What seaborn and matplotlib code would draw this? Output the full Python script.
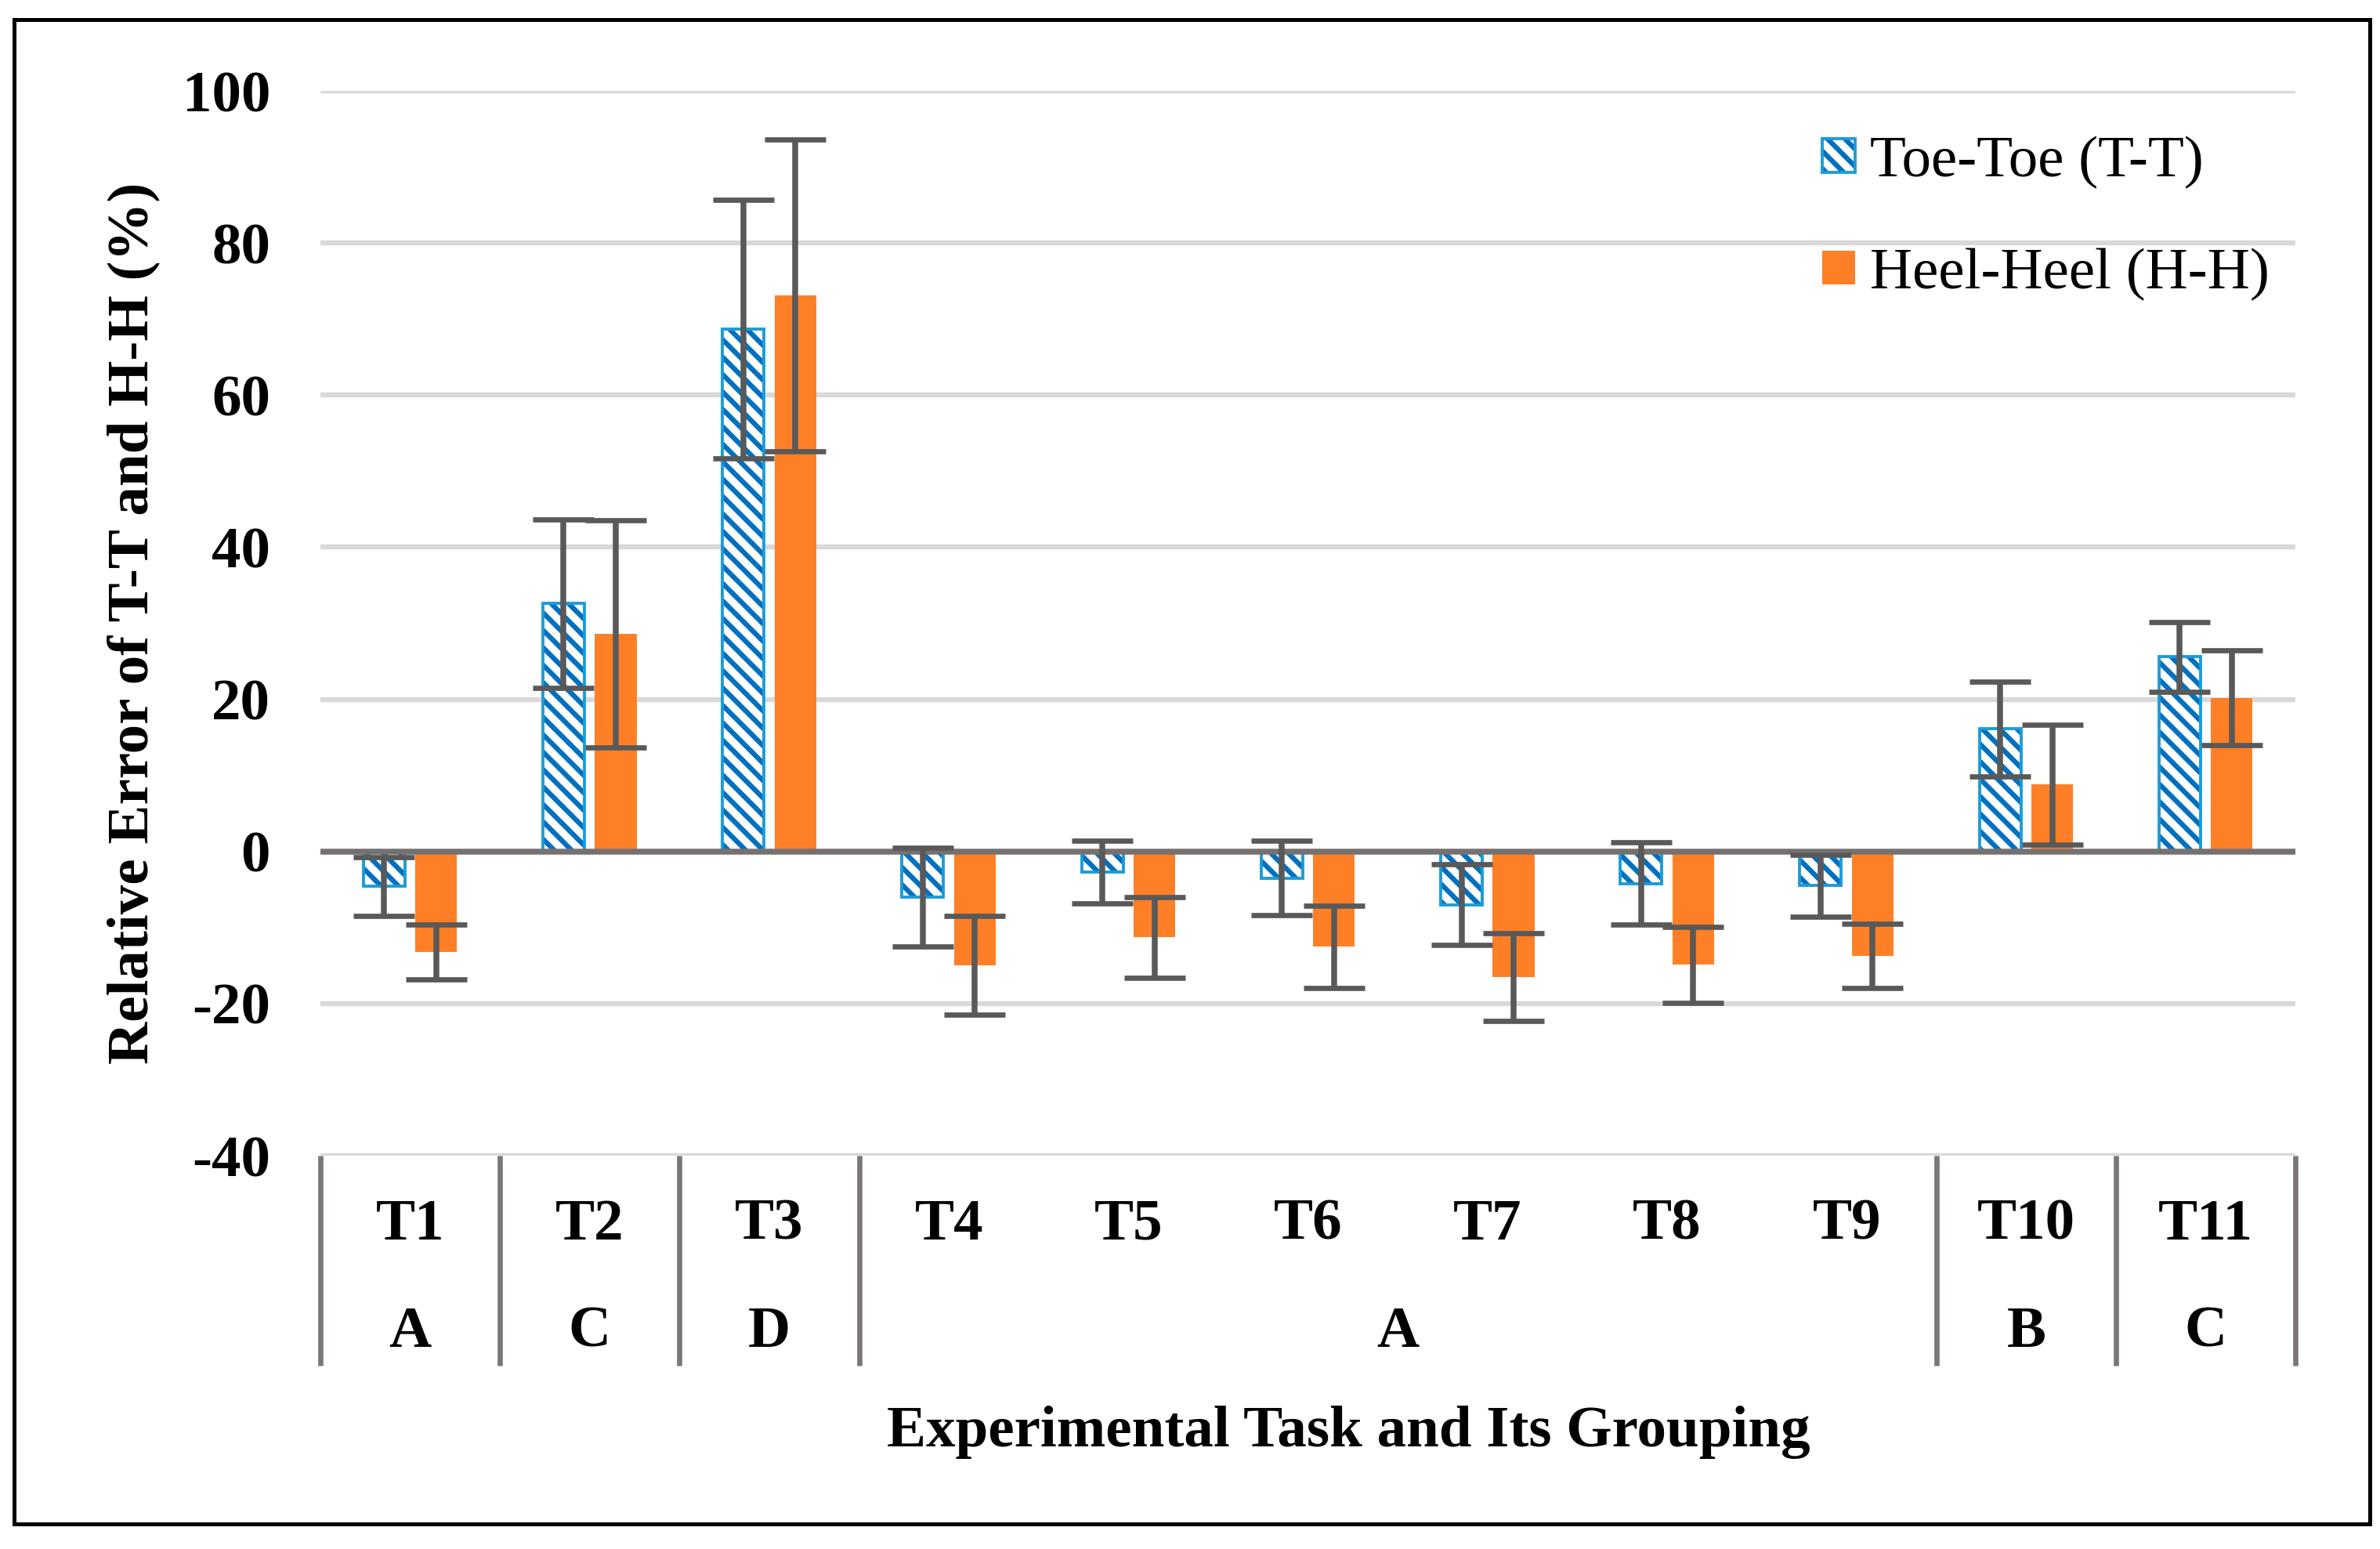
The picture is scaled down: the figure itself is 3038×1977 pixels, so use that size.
import numpy as np
import pandas as pd
import matplotlib
matplotlib.use("Agg")
import matplotlib.pyplot as plt
import matplotlib.transforms as mtransforms
from matplotlib.colors import to_rgba
from matplotlib.patches import Rectangle
import seaborn as sns

# значения
tasks = ["T1", "T2", "T3", "T4", "T5", "T6", "T7", "T8", "T9", "T10", "T11"]
groups = ["A", "C", "D", "A", "A", "A", "A", "A", "A", "B", "C"]
series = ["Toe-Toe (T-T)", "Heel-Heel (H-H)"]

tt_mean = [-4.6, 32.6, 68.7, -6.0, -2.7, -3.5, -7.0, -4.2, -4.5, 16.1, 25.6]
tt_err = [3.9, 11.1, 17.0, 6.5, 4.1, 4.9, 5.3, 5.4, 4.1, 6.2, 4.6]
hh_mean = [-13.2, 28.6, 73.1, -15.0, -11.3, -12.5, -16.5, -14.9, -13.7, 8.8, 20.2]
hh_err = [3.6, 14.9, 20.5, 6.5, 5.3, 5.4, 5.8, 5.0, 4.2, 7.9, 6.2]

df = pd.DataFrame({
    "task": tasks * 2,
    "series": [series[0]] * len(tasks) + [series[1]] * len(tasks),
    "value": tt_mean + hh_mean,
})

sns.set_theme(style="white")
plt.rcParams["font.family"] = ["Liberation Serif", "DejaVu Serif"]
plt.rcParams["hatch.linewidth"] = 2.3
plt.rcParams["axes.unicode_minus"] = False
for key in ["text.color", "axes.labelcolor", "xtick.color", "ytick.color"]:
    plt.rcParams[key] = "black"

FS = 27

fig = plt.figure(figsize=(15.19, 9.885), dpi=200)
ax = fig.add_axes([0.1346, 0.2539, 0.8299, 0.6874])

sns.barplot(data=df, x="task", y="value", hue="series", hue_order=series,
            palette=["white", "#FF7F27"], saturation=1, width=0.58, gap=0.2,
            errorbar=None, legend=False, ax=ax)

# штриховка для T-T: контур светлее, штрихи темнее
for bar in ax.containers[0]:
    bar.set_hatch("\\\\\\")
    bar.set_edgecolor("#1E9BD7")
    bar.set_linewidth(1.4)
    bar._hatch_color = to_rgba("#0070C0")
for bar in ax.containers[1]:
    bar.set_edgecolor("none")

# планки погрешностей
for cont, means, errs in zip(ax.containers, [tt_mean, hh_mean], [tt_err, hh_err]):
    xs = [b.get_x() + b.get_width() / 2 for b in cont]
    ax.errorbar(xs, means, yerr=errs, fmt="none", ecolor="#595959",
                elinewidth=2.7, capsize=14, capthick=2.4, zorder=5)

ax.set_ylim(-40, 100)
ax.set_xlim(-0.5, len(tasks) - 0.5)
ax.set_yticks(np.arange(-40, 101, 20))
for sp in ax.spines.values():
    sp.set_visible(False)
ax.yaxis.grid(True, color="#D9D9D9", linewidth=2.3)
ax.set_axisbelow(True)
ax.axhline(0, color="#767171", linewidth=2.7, zorder=4)

ax.tick_params(axis="y", length=0, pad=23, labelsize=FS)
ax.tick_params(axis="x", length=0, pad=32, labelsize=FS)
for lab in ax.get_yticklabels():
    lab.set_fontweight("bold")
for lab in ax.get_xticklabels():
    lab.set_fontweight("bold")
    lab.set_va("center")

# двухуровневая ось категорий
trans = mtransforms.blended_transform_factory(ax.transData, ax.transAxes)
bounds = [-0.5]
for i in range(1, len(groups)):
    if not (groups[i] == "A" and groups[i - 1] == "A"):
        bounds.append(i - 0.5)
bounds.append(len(groups) - 0.5)
for b in bounds:
    ax.plot([b, b], [0, -0.197], transform=trans, color="#7B7777",
            linewidth=2.4, clip_on=False, solid_capstyle="butt")
for left, right in zip(bounds[:-1], bounds[1:]):
    g = groups[int(left + 0.5)]
    ax.text((left + right) / 2, -0.166, g, transform=trans, ha="center",
            va="center", fontsize=FS, fontweight="bold")

ax.set_xlabel("Experimental Task and Its Grouping", fontsize=FS,
              fontweight="bold", va="center")
ax.xaxis.set_label_coords(0.5205, -0.26)
ax.set_ylabel("Relative Error of T-T and H-H (%)", fontsize=FS,
              fontweight="bold", va="center")
ax.yaxis.set_label_coords(-0.0948, 0.5)

ax.legend(handles=[ax.containers[0][0], ax.containers[1][0]], labels=series,
          loc="upper left", bbox_to_anchor=(0.7656, 0.912),
          bbox_transform=fig.transFigure, frameon=False, fontsize=FS,
          handlelength=0.56, handleheight=0.5, handletextpad=0.25,
          labelspacing=1.0, borderpad=0, borderaxespad=0)

fig.add_artist(Rectangle((0.006, 0.0162), 0.9897, 0.9712,
                         transform=fig.transFigure, fill=False,
                         edgecolor="black", linewidth=1.8))

fig.savefig("out.png", dpi=200, facecolor="white")
